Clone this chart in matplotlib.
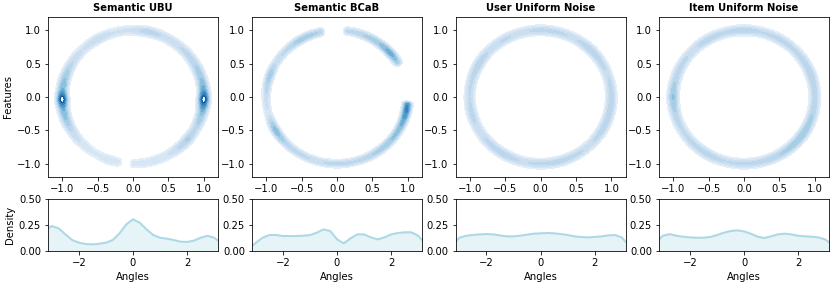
import numpy as np
import matplotlib.pyplot as plt

titles = ["Semantic UBU", "Semantic BCaB", "User Uniform Noise", "Item Uniform Noise"]

# angle grid used for the 1D density curves (radians)
angle_grid = [-3.14, -3.0, -2.75, -2.5, -2.25, -2.0, -1.75, -1.5, -1.25, -1.0, -0.75, -0.5, -0.25,
              0.0, 0.25, 0.5, 0.75, 1.0, 1.25, 1.5, 1.75, 2.0, 2.25, 2.5, 2.75, 3.0, 3.14]

density_ubu = [0.218, 0.24, 0.218, 0.16, 0.106, 0.08, 0.067, 0.064, 0.07, 0.08, 0.106, 0.17, 0.256,
               0.305, 0.272, 0.208, 0.154, 0.128, 0.119, 0.106, 0.09, 0.087, 0.1, 0.128, 0.147, 0.128, 0.1]
density_bcab = [0.05, 0.08, 0.128, 0.154, 0.154, 0.144, 0.144, 0.144, 0.147, 0.154, 0.176, 0.208, 0.192,
                0.112, 0.074, 0.122, 0.16, 0.16, 0.131, 0.112, 0.131, 0.16, 0.173, 0.18, 0.18, 0.147, 0.106]
density_user = [0.09, 0.128, 0.147, 0.154, 0.16, 0.163, 0.16, 0.15, 0.141, 0.141, 0.147, 0.157, 0.167,
                0.17, 0.173, 0.17, 0.163, 0.154, 0.141, 0.135, 0.131, 0.135, 0.141, 0.15, 0.154, 0.131, 0.09]
density_item = [0.112, 0.147, 0.163, 0.147, 0.138, 0.131, 0.128, 0.128, 0.135, 0.154, 0.176, 0.192, 0.199,
                0.189, 0.167, 0.138, 0.125, 0.141, 0.16, 0.167, 0.16, 0.147, 0.141, 0.138, 0.131, 0.112, 0.083]

# ring darkness read around each circle (degrees, relative intensity)
ring_ubu_deg = [-10, -2, 6, 15, 30, 45, 60, 78, 90, 105, 120, 135, 150, 165, 174, 182, 190, 195, 210,
                225, 240, 250, 258, 263, 266, 270, 285, 300, 321, 330, 345]
ring_ubu_val = [0.6, 1.0, 0.6, 0.45, 0.35, 0.3, 0.26, 0.34, 0.24, 0.22, 0.28, 0.22, 0.3, 0.45, 0.55, 1.0,
                0.55, 0.5, 0.3, 0.2, 0.16, 0.22, 0.18, 0.0, 0.0, 0.18, 0.2, 0.22, 0.38, 0.3, 0.45]
ring_bcab_deg = [-6, -3, 3, 27, 31, 41, 55, 70, 82, 86, 99, 103, 120, 135, 150, 160, 172, 185, 195,
                 210, 225, 240, 255, 270, 285, 300, 315, 330, 340, 349]
ring_bcab_val = [0.7, 0.0, 0.0, 0.0, 0.4, 0.6, 0.42, 0.35, 0.3, 0.0, 0.0, 0.35, 0.42, 0.3, 0.28, 0.42,
                 0.32, 0.24, 0.2, 0.52, 0.32, 0.3, 0.28, 0.32, 0.3, 0.36, 0.42, 0.48, 0.6, 0.78]
ring_user_deg = [0, 20, 45, 60, 75, 90, 105, 120, 135, 150, 165, 180, 195, 210, 225, 240, 255, 270,
                 285, 300, 315, 330, 345]
ring_user_val = [0.34, 0.28, 0.36, 0.28, 0.3, 0.32, 0.27, 0.3, 0.27, 0.36, 0.3, 0.29, 0.32, 0.27, 0.31,
                 0.34, 0.28, 0.31, 0.33, 0.3, 0.28, 0.33, 0.35]
ring_item_deg = [0, 20, 45, 60, 75, 90, 105, 120, 135, 150, 165, 180, 195, 210, 225, 240, 255, 270,
                 285, 300, 325, 345]
ring_item_val = [0.32, 0.36, 0.3, 0.32, 0.29, 0.36, 0.3, 0.34, 0.27, 0.31, 0.34, 0.46, 0.34, 0.29, 0.31,
                 0.34, 0.29, 0.31, 0.32, 0.36, 0.44, 0.36]

densities = [density_ubu, density_bcab, density_user, density_item]
rings = [(ring_ubu_deg, ring_ubu_val), (ring_bcab_deg, ring_bcab_val),
         (ring_user_deg, ring_user_val), (ring_item_deg, ring_item_val)]
ring_width = [0.05, 0.04, 0.05, 0.05]

fig = plt.figure(figsize=(831 / 72, 286 / 72), dpi=72)

W, H = 831, 286
lefts = [48, 252, 455.5, 659]
aw = 170

xs = np.linspace(-1.2, 1.2, 320)
X, Y = np.meshgrid(xs, xs)
R = np.hypot(X, Y)
T = np.degrees(np.arctan2(Y, X)) % 360
levels = [0.08, 0.15, 0.22, 0.29, 0.36, 0.44, 0.53, 0.62, 0.72, 0.84]

for i in range(4):
    ax = fig.add_axes([lefts[i] / W, 1 - 177 / H, aw / W, 160 / H])
    deg, val = rings[i]
    inten = np.interp(T, np.array(deg) % 360, val, period=360)
    field = inten * np.exp(-0.5 * ((R - 1.0) / ring_width[i]) ** 2)
    ax.contourf(X, Y, field, levels=levels, cmap="Blues", vmin=0.0, vmax=1.15)
    ax.contour(X, Y, field, levels=[0.84], colors="#08519c", linewidths=1.0)
    ax.set_xlim(-1.2, 1.2)
    ax.set_ylim(-1.2, 1.2)
    ax.set_xticks([-1.0, -0.5, 0.0, 0.5, 1.0])
    ax.set_yticks([-1.0, -0.5, 0.0, 0.5, 1.0])
    ax.set_title(titles[i], fontweight="bold", fontsize=10)
    if i == 0:
        ax.set_ylabel("Features")

    bx = fig.add_axes([lefts[i] / W, 1 - 251 / H, aw / W, 52 / H])
    bx.plot(angle_grid, densities[i], color="lightblue", lw=2)
    bx.fill_between(angle_grid, densities[i], color="lightblue", alpha=0.3)
    bx.set_xlim(-np.pi, np.pi)
    bx.set_ylim(0, 0.5)
    bx.set_yticks([0.0, 0.25, 0.5])
    bx.set_xlabel("Angles")
    if i == 0:
        bx.set_ylabel("Density")

plt.savefig("out.png", dpi=72)
